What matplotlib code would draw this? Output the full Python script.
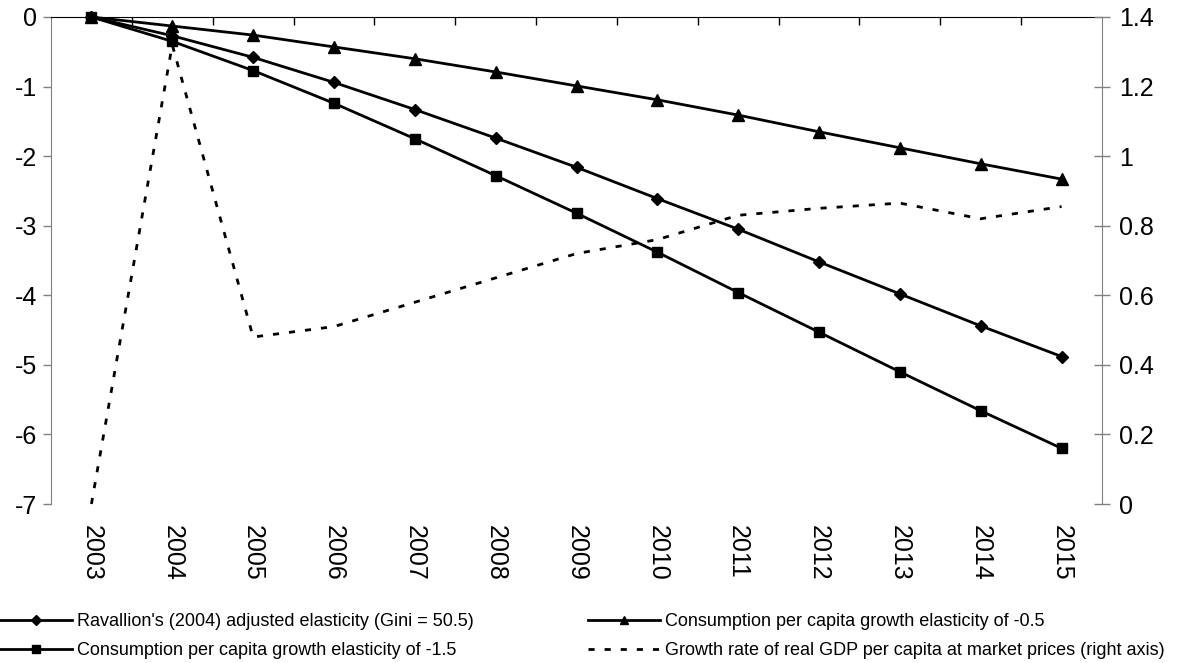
import numpy as np
import matplotlib
matplotlib.use("Agg")
import matplotlib.pyplot as plt
from matplotlib.ticker import FixedLocator

plt.rcParams['font.family'] = ['Liberation Sans', 'DejaVu Sans']
plt.rcParams['axes.unicode_minus'] = False

# data
years = [str(y) for y in range(2003, 2016)]
ravallion = [0, -0.27, -0.58, -0.94, -1.33, -1.74, -2.16, -2.61, -3.05, -3.52, -3.98, -4.44, -4.88]
elast_05 = [0, -0.13, -0.26, -0.43, -0.60, -0.79, -0.99, -1.19, -1.41, -1.65, -1.88, -2.11, -2.33]
elast_15 = [0, -0.35, -0.77, -1.24, -1.75, -2.28, -2.82, -3.38, -3.96, -4.53, -5.10, -5.66, -6.20]
gdp_growth = [0, 1.32, 0.48, 0.51, 0.58, 0.65, 0.72, 0.76, 0.83, 0.85, 0.865, 0.82, 0.855]

labels = ["Ravallion's (2004) adjusted elasticity (Gini = 50.5)",
          "Consumption per capita growth elasticity of -0.5",
          "Consumption per capita growth elasticity of -1.5",
          "Growth rate of real GDP per capita at market prices (right axis)"]

x = np.arange(len(years))
gray = '#808080'

fig = plt.figure(figsize=(11.77, 6.63), dpi=100)
ax = fig.add_axes([51 / 1177, 1 - 504 / 663, (1102 - 51) / 1177, (504 - 17) / 663])

l1, = ax.plot(x, ravallion, color='black', lw=2, marker='D', ms=6.5, clip_on=False, zorder=3)
l2, = ax.plot(x, elast_05, color='black', lw=2, marker='^', ms=8, clip_on=False, zorder=3)
l3, = ax.plot(x, elast_15, color='black', lw=2, marker='s', ms=7, clip_on=False, zorder=3)

ax.set_xlim(-0.5, 12.5)
ax.set_ylim(-7, 0)
ax.set_yticks(range(-7, 1))
ax.set_xticks(x)
ax.set_xticklabels(years, rotation=-90, fontsize=18)
ax.tick_params(axis='x', which='major', length=0, pad=15)
ax.xaxis.set_minor_locator(FixedLocator(np.arange(0.5, 12, 1)))
ax.tick_params(axis='x', which='minor', top=True, bottom=False, direction='in', length=6,
               width=1, color='black')
ax.tick_params(axis='y', labelsize=18, direction='out', length=6, width=1, color=gray, pad=4)

for s in ['bottom', 'right']:
    ax.spines[s].set_visible(False)
ax.spines['left'].set_color(gray)
ax.spines['top'].set_color('black')

ax2 = ax.twinx()
l4, = ax2.plot(x, gdp_growth, color='black', lw=2, linestyle=(0, (2.2, 3.6)), clip_on=False)
ax2.set_ylim(0, 1.4)
ax2.set_yticks(np.arange(0, 1.41, 0.2))
ax2.set_yticklabels(['0', '0.2', '0.4', '0.6', '0.8', '1', '1.2', '1.4'])
ax2.tick_params(axis='y', labelsize=18, direction='inout', length=12, width=1, color=gray, pad=6)
for s in ['bottom', 'left', 'top']:
    ax2.spines[s].set_visible(False)
ax2.spines['right'].set_color(gray)

leg_kw = dict(loc='upper left', frameon=False, fontsize=13, handlelength=4.0,
              handletextpad=0.25, labelspacing=0.66, borderaxespad=0, borderpad=0,
              markerscale=0.75)
fig.legend([l1, l3], [labels[0], labels[2]], bbox_to_anchor=(0.0, 1 - 613 / 663), **leg_kw)
fig.legend([l2, l4], [labels[1], labels[3]], bbox_to_anchor=(588 / 1177, 1 - 613 / 663), **leg_kw)

fig.savefig('out.png', dpi=100)
